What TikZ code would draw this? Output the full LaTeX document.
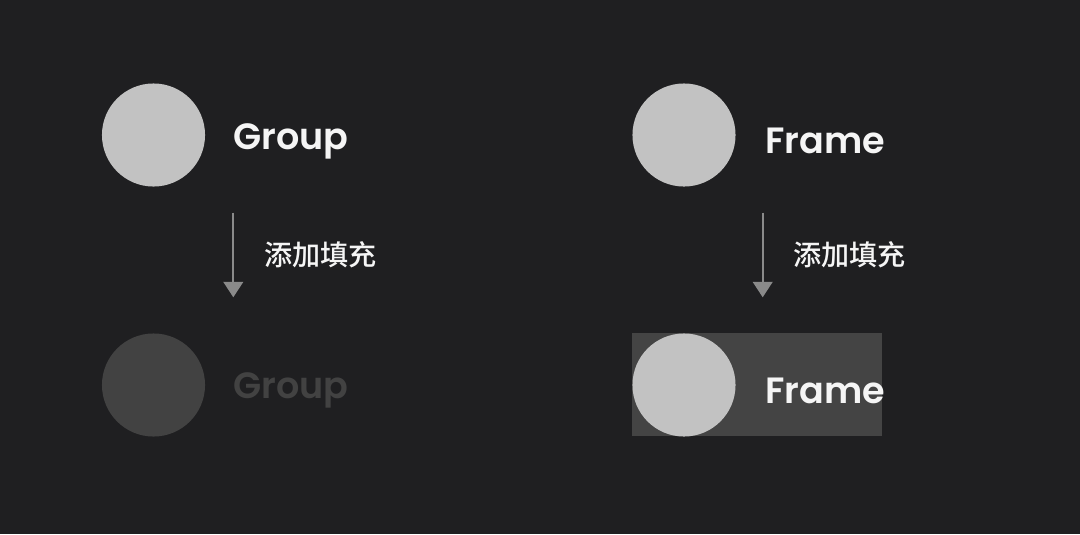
\documentclass[tikz,border=0pt]{standalone}
\usepackage{fontspec}
\setmainfont{Poppins}[BoldFont={Poppins SemiBold}]
\newfontfamily\cjk{Noto Sans CJK SC}[BoldFont={Noto Sans CJK SC Medium}]
\usetikzlibrary{positioning,arrows.meta}
\definecolor{bgdark}{RGB}{31 31 33}
\definecolor{lightgrey}{RGB}{194 194 194}
\definecolor{dimgrey}{RGB}{66 66 66}
\definecolor{framegrey}{RGB}{68 68 68}
\definecolor{arrowgrey}{RGB}{138 138 138}
\definecolor{offwhite}{RGB}{245 245 245}
\tikzstyle{dot} = [circle, minimum size=73.3pt, inner sep=0pt, fill=lightgrey]
\tikzstyle{dimdot} = [dot, fill=dimgrey]
\tikzstyle{label} = [anchor=base west, inner sep=0pt, text=offwhite, font=\fontsize{26}{30}\selectfont\bfseries]
\tikzstyle{dimlabel} = [label, text=dimgrey]
\tikzstyle{step label} = [anchor=west, inner sep=0pt, text=offwhite, font=\cjk\fontsize{20}{22}\selectfont\bfseries]
\tikzstyle{framebox} = [rectangle, inner sep=0pt, minimum width=177.8pt, minimum height=73.3pt, fill=framegrey]
\tikzstyle{arrow} = [draw=arrowgrey, line width=1.4pt, -{Triangle[width=14pt,length=11pt]}]
\begin{document}
\begin{tikzpicture}[x=0.025cm, y=-0.025cm]
    \fill[bgdark] (0,0) rectangle (1080,534);
    \useasboundingbox (0,0) rectangle (1080,534);
    % group side
    \node (gtop) [dot] at (153.5,135) {};
    \node (gtoptext) [label] at (233,149.5) {Group};
    \node (gbot) [dimdot] at (153.5,385) {};
    \node (gbottext) [dimlabel] at (233,398) {Group};
    \coordinate (ga) at (233.3,212.7);
    \coordinate (gb) at (233.3,297.3);
    \draw [arrow] (ga) -- (gb);
    \node (gstep) [step label] at (264,255) {添加填充};
    % frame side
    \node (fbox) [framebox] at (757,384.5) {};
    \node (ftop) [dot] at (684,135) {};
    \node (ftoptext) [label] at (765,153.3) {Frame};
    \node (fbot) [dot] at (684,385) {};
    \node (fbottext) [label] at (765,403.3) {Frame};
    \coordinate (fa) at (762.7,212.7);
    \coordinate (fb) at (762.7,297.3);
    \draw [arrow] (fa) -- (fb);
    \node (fstep) [step label] at (793,255) {添加填充};
\end{tikzpicture}
\end{document}
